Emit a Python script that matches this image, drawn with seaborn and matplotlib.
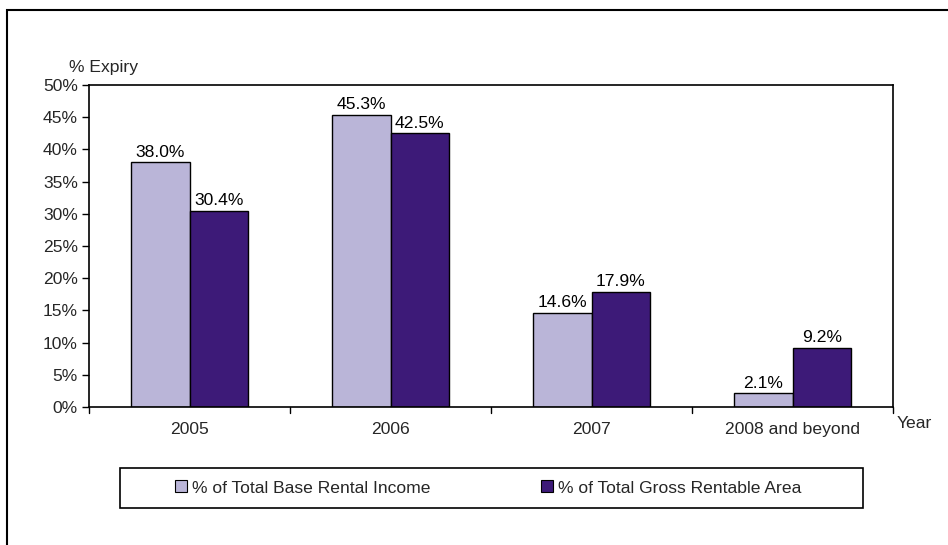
import matplotlib
matplotlib.use("Agg")
import matplotlib.pyplot as plt
from matplotlib.patches import Rectangle
import seaborn as sns
import pandas as pd

years = ["2005", "2006", "2007", "2008 and beyond"]
base_rental_income = [38.0, 45.3, 14.6, 2.1]
gross_rentable_area = [30.4, 42.5, 17.9, 9.2]
series_names = ["% of Total Base Rental Income", "% of Total Gross Rentable Area"]
yticks = [0, 5, 10, 15, 20, 25, 30, 35, 40, 45, 50]

sns.set_theme(style="white")
plt.rcParams["font.family"] = ["Liberation Sans", "DejaVu Sans"]
FS = 12.6

df = pd.DataFrame({
    "Year": years * 2,
    "Value": base_rental_income + gross_rentable_area,
    "Series": [series_names[0]] * len(years) + [series_names[1]] * len(years),
})

W, H = 948, 545
fig = plt.figure(figsize=(W / 100, H / 100), dpi=100)
ax = fig.add_axes([89 / W, 1 - 407 / H, (893 - 89) / W, (407 - 85) / H])

palette = {series_names[0]: "#BAB5D8", series_names[1]: "#3D1A78"}
sns.barplot(data=df, x="Year", y="Value", hue="Series", palette=palette,
            width=0.585, edgecolor="black", linewidth=1.0, saturation=1,
            ax=ax, legend=True)

# value labels above each bar
for container in ax.containers:
    ax.bar_label(container, labels=[f"{v:.1f}%" for v in container.datavalues],
                 padding=2, fontsize=FS, color="black")

ax.set_ylim(0, 50)
ax.set_xlim(-0.5, len(years) - 0.5)
ax.set_yticks(yticks)
ax.set_yticklabels([f"{t}%" for t in yticks], fontsize=FS)
ax.set_xticks(range(len(years)))
ax.set_xticklabels(years, fontsize=FS)
ax.tick_params(axis="x", length=0, pad=11)
ax.tick_params(axis="y", length=5, width=1, color="black", direction="out", left=True, pad=3)
# category separators on the x axis
for b in [i - 0.5 for i in range(len(years) + 1)]:
    ax.plot([b, b], [0, -1.0], color="black", lw=1, clip_on=False,
            transform=ax.transData)
ax.set_xlabel("")
ax.set_ylabel("")
for s in ax.spines.values():
    s.set_color("black")
    s.set_linewidth(1.2)

fig.text(69 / W, 1 - 67 / H, "% Expiry", fontsize=FS, va="center", ha="left")
fig.text(897 / W, 1 - 423 / H, "Year", fontsize=FS, va="center", ha="left")

# legend in a framed box below the chart
handles, labels = ax.get_legend_handles_labels()
ax.get_legend().remove()
leg = fig.legend(handles, labels, loc="center left", bbox_to_anchor=(175 / W, 1 - 488 / H),
                 ncol=2, frameon=False, fontsize=FS, borderaxespad=0, borderpad=0,
                 handlelength=0.68, handleheight=0.68, handletextpad=0.3,
                 columnspacing=6.3)
for h in leg.legend_handles:
    h.set_edgecolor("black")
    h.set_linewidth(0.8)
fig.patches.append(Rectangle((120 / W, 1 - 508 / H), (863 - 120) / W, 40 / H,
                             transform=fig.transFigure, fill=False,
                             edgecolor="black", linewidth=1.2))

# outer chart frame
fig.patches.append(Rectangle((7 / W, -0.1), 1.1, 1 - 10 / H + 0.1,
                             transform=fig.transFigure, fill=False,
                             edgecolor="black", linewidth=1.5))

fig.savefig("out.png", dpi=100)
